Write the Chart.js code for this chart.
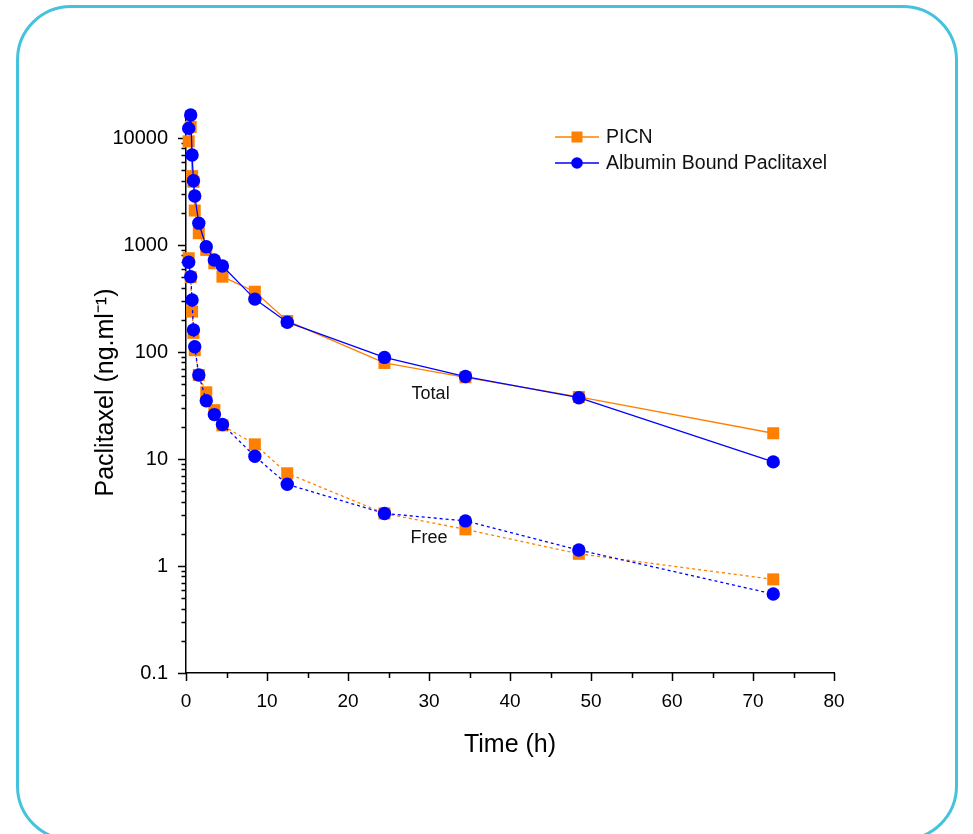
<!DOCTYPE html>
<html>
<head>
<meta charset="utf-8">
<script src="https://cdn.jsdelivr.net/npm/chart.js@4.4.1/dist/chart.umd.min.js"></script>
<style>
  body { margin: 0; background: #fff; }
  #wrap { position: relative; width: 973px; height: 834px; overflow: hidden; }
  #frame { position: absolute; left: 16px; top: 5px; width: 942px; height: 836px;
           border: 3px solid #45c3dd; border-radius: 55px; box-sizing: border-box; }
  #c { position: absolute; left: 0; top: 0; }
</style>
</head>
<body>
<div id="wrap">
  <div id="frame"></div>
  <canvas id="c" width="973" height="834"></canvas>
</div>
<script>
// sampling times (h)
var times = [0.33, 0.58, 0.75, 0.92, 1.08, 1.58, 2.5, 3.5, 4.5, 8.5, 12.5, 24.5, 34.5, 48.5, 72.5];

// total paclitaxel (ng/ml)
var picnTotal = [9300, 12700, 4400, 3900, 2100, 1290, 900, 675, 506, 366, 195, 79, 58, 38, 17.4];
var albTotal  = [12300, 16400, 6930, 3990, 2870, 1600, 964, 724, 637, 312, 190, 89, 59, 37.4, 9.4];

// free paclitaxel (ng/ml)
var picnFree = [752, 500, 239, 151, 104, 61, 42, 28.6, 20.6, 13.7, 7.35, 3.1, 2.2, 1.3, 0.75];
var albFree  = [689, 506, 306, 161, 112, 61, 35, 26, 21, 10.6, 5.8, 3.1, 2.64, 1.41, 0.547];

var seriesNames = ['PICN', 'Albumin Bound Paclitaxel'];
var yMajor = [0.1, 1, 10, 100, 1000, 10000];
var noteLabels = ['Total', 'Free'];
var noteX = [30.2, 30];
var noteY = [40.5, 1.83];

var ORANGE = '#ff8000', BLUE = '#0000ff';
var FONT = '"Liberation Sans", Arial, sans-serif';

function pts(vals){
    return times.map(function(t, i){ return {x: t, y: vals[i]}; });
}

// every 1..9 x 10^n tick between 0.1 and 10000
var yTicks = [];
for (var d = 0; d < yMajor.length; d++) {
    for (var m = 1; m <= 9; m++) {
        if (d == yMajor.length - 1 && m > 1) break;
        yTicks.push(m * yMajor[d]);
    }
}

var tickMarks = {
    id: 'tickMarks',
    beforeDatasetsDraw: function(chart){
        var ctx = chart.ctx, xs = chart.scales.x, ys = chart.scales.y;
        ctx.save();
        ctx.strokeStyle = '#000';
        ctx.lineWidth = 1.5;
        ctx.beginPath();
        xs.ticks.forEach(function(t){
            var px = Math.round(xs.getPixelForValue(t.value)) + 0.5;
            var len = (t.value % 10 === 0) ? 8 : 5;
            ctx.moveTo(px, xs.top);
            ctx.lineTo(px, xs.top + len);
        });
        ys.ticks.forEach(function(t){
            var py = Math.round(ys.getPixelForValue(t.value)) + 0.5;
            var major = yMajor.indexOf(t.value) >= 0;
            var len = major ? 8 : 4.5;
            ctx.moveTo(ys.right, py);
            ctx.lineTo(ys.right - len, py);
        });
        ctx.stroke();
        ctx.restore();
    }
};

var notesAndLegend = {
    id: 'notesAndLegend',
    afterDraw: function(chart){
        var ctx = chart.ctx, xs = chart.scales.x, ys = chart.scales.y, ca = chart.chartArea;
        ctx.save();
        ctx.fillStyle = '#111';
        ctx.font = '18px ' + FONT;
        ctx.textAlign = 'center';
        ctx.textBaseline = 'middle';
        for (var i = 0; i < noteLabels.length; i++) {
            ctx.fillText(noteLabels[i], xs.getPixelForValue(noteX[i]), ys.getPixelForValue(noteY[i]));
        }
        // legend
        var lx = ca.left + 369, ly = ca.top + 25;
        var cols = [ORANGE, BLUE];
        ctx.textAlign = 'left';
        ctx.font = '19.5px ' + FONT;
        for (var k = 0; k < 2; k++) {
            var y = ly + k * 26;
            ctx.strokeStyle = cols[k];
            ctx.lineWidth = 1.3;
            ctx.beginPath();
            ctx.moveTo(lx, y);
            ctx.lineTo(lx + 44, y);
            ctx.stroke();
            ctx.fillStyle = cols[k];
            if (k == 0) {
                ctx.fillRect(lx + 22 - 5.5, y - 5.5, 11, 11);
            } else {
                ctx.beginPath();
                ctx.arc(lx + 22, y, 5.8, 0, Math.PI * 2);
                ctx.fill();
            }
            ctx.fillStyle = '#111';
            ctx.fillText(seriesNames[k], lx + 51, y + 1);
        }
        ctx.restore();
    }
};

function ds(label, vals, col, shape, dash){
    return {
        label: label,
        data: pts(vals),
        borderColor: col,
        backgroundColor: col,
        borderWidth: 1.3,
        borderDash: dash,
        pointStyle: shape,
        pointRadius: shape == 'rect' ? 8.5 : 6.7,
        pointHoverRadius: shape == 'rect' ? 8.5 : 6.7,
        pointBorderWidth: 0,
        pointBackgroundColor: col,
        tension: 0,
        clip: false
    };
}

new Chart(document.getElementById('c').getContext('2d'), {
    type: 'line',
    data: {
        datasets: [
            ds(seriesNames[1] + ' total', albTotal, BLUE, 'circle', []),
            ds(seriesNames[1] + ' free', albFree, BLUE, 'circle', [3, 3]),
            ds(seriesNames[0] + ' total', picnTotal, ORANGE, 'rect', []),
            ds(seriesNames[0] + ' free', picnFree, ORANGE, 'rect', [3, 3])
        ]
    },
    options: {
        responsive: false,
        animation: false,
        layout: { padding: { left: 87, right: 139, top: 112, bottom: 70 } },
        plugins: { legend: { display: false }, tooltip: { enabled: false } },
        scales: {
            x: {
                type: 'linear',
                min: 0, max: 80,
                grid: { display: false },
                border: { display: true, color: '#000', width: 1.5 },
                ticks: {
                    stepSize: 5, autoSkip: false, maxRotation: 0, padding: 9,
                    color: '#000', font: { size: 19, family: FONT },
                    callback: function(v){ return v % 10 === 0 ? String(v) : ''; }
                },
                title: { display: true, text: 'Time (h)', color: '#000',
                         font: { size: 25, family: FONT }, padding: { top: 4, bottom: 4 } },
                afterFit: function(s){ s.height = 91; }
            },
            y: {
                type: 'logarithmic',
                min: 0.1, max: 17500,
                grid: { display: false },
                border: { display: true, color: '#000', width: 1.5 },
                afterBuildTicks: function(s){
                    s.ticks = yTicks.map(function(v){ return {value: v}; });
                },
                ticks: {
                    autoSkip: false, padding: 10, color: '#000',
                    font: { size: 20, family: FONT },
                    callback: function(v){ return yMajor.indexOf(v) >= 0 ? String(v) : ''; }
                },
                title: { display: true, text: 'Paclitaxel (ng.ml\u207B\u00B9)', color: '#000',
                         font: { size: 25, family: FONT }, padding: { top: 4, bottom: 4 } },
                afterFit: function(s){ s.width = 99; }
            }
        }
    },
    plugins: [tickMarks, notesAndLegend]
});
</script>
</body>
</html>
